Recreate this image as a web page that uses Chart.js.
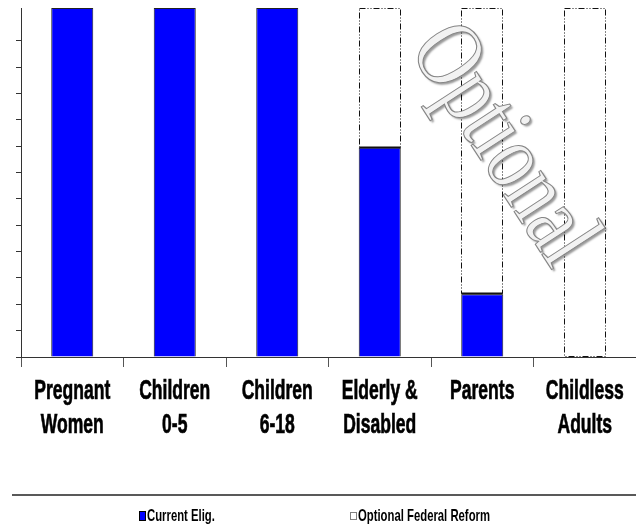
<!DOCTYPE html>
<html>
<head>
<meta charset="utf-8">
<script src="https://cdn.jsdelivr.net/npm/chart.js@4.4.0/dist/chart.umd.min.js"></script>
<style>
  html, body { margin: 0; padding: 0; background: #fff; }
</style>
</head>
<body>
<canvas id="eligChart" width="636" height="527"></canvas>
<script>
// eligibility groups and the two stacked series (share of the full bar height)
const categories = [['Pregnant', 'Women'], ['Children', '0-5'], ['Children', '6-18'], ['Elderly &', 'Disabled'], ['Parents'], ['Childless', 'Adults']];
const currentElig = [100, 100, 100, 60, 18, 0];
const optionalReform = [0, 0, 0, 40, 82, 100];
const seriesNames = ['Current Elig.', 'Optional Federal Reform'];
const watermarkText = 'Optional';

const narrowFont = '"Liberation Sans Narrow", "Liberation Sans", Arial, sans-serif';

// dash-dot outline for the optional part of each bar
const dashedBoxes = {
    id: 'dashedBoxes',
    afterDatasetsDraw(chart) {
        const ctx = chart.ctx;
        const meta = chart.getDatasetMeta(1);
        ctx.save();
        ctx.strokeStyle = '#111';
        ctx.lineWidth = 1;
        meta.data.forEach((bar, i) => {
            if (!optionalReform[i]) return;
            const left = Math.round(bar.x - bar.width / 2) + 0.5;
            const right = Math.round(bar.x + bar.width / 2) - 0.5;
            const top = Math.round(bar.y) + 0.5;
            const bottom = Math.round(bar.base) - 0.5;
            ctx.setLineDash([6, 2, 1, 2, 1, 2]);
            ctx.strokeRect(left, top, right - left, bottom - top);
            // solid seam where the optional part sits on the current bar
            if (currentElig[i]) {
                ctx.setLineDash([]);
                ctx.lineWidth = 2;
                ctx.beginPath();
                ctx.moveTo(left, bottom);
                ctx.lineTo(right, bottom);
                ctx.stroke();
                ctx.lineWidth = 1;
            }
        });
        ctx.restore();
    }
};

// stretched bold labels under the axis, placed with the x scale
const categoryLabels = {
    id: 'categoryLabels',
    afterDraw(chart) {
        const ctx = chart.ctx;
        const xScale = chart.scales.x;
        const base = chart.chartArea.bottom;
        ctx.save();
        ctx.font = 'bold 28px ' + narrowFont;
        const sx = 76 / ctx.measureText('Pregnant').width;
        ctx.fillStyle = '#000';
        ctx.strokeStyle = '#000';
        ctx.lineWidth = 0.7;
        ctx.textAlign = 'center';
        ctx.textBaseline = 'alphabetic';
        categories.forEach((lines, i) => {
            const x = xScale.getPixelForValue(i);
            lines.forEach((line, j) => {
                ctx.save();
                ctx.translate(x, base + 42 + j * 34);
                ctx.scale(sx, 1);
                ctx.fillText(line, 0, 0);
                ctx.strokeText(line, 0, 0);
                ctx.restore();
            });
        });
        ctx.restore();
    }
};

// watermark across the right-hand bars
const watermark = {
    id: 'watermark',
    afterDraw(chart) {
        const ctx = chart.ctx;
        const area = chart.chartArea;
        ctx.save();
        ctx.translate(area.left + 0.782 * (area.right - area.left), area.top + 0.395 * (area.bottom - area.top));
        ctx.rotate(57 * Math.PI / 180);
        ctx.scale(0.97, 1.25);
        ctx.font = '78px "Liberation Serif", "Times New Roman", serif';
        ctx.textAlign = 'center';
        ctx.textBaseline = 'middle';
        ctx.shadowColor = 'rgba(0,0,0,0.4)';
        ctx.shadowOffsetX = 2;
        ctx.shadowOffsetY = 2;
        ctx.shadowBlur = 2;
        ctx.fillStyle = '#f2f2f2';
        ctx.fillText(watermarkText, 0, 0);
        ctx.shadowColor = 'transparent';
        ctx.strokeStyle = '#858585';
        ctx.lineWidth = 0.9;
        ctx.strokeText(watermarkText, 0, 0);
        ctx.restore();
    }
};

// legend with a rule above it
const bottomLegend = {
    id: 'bottomLegend',
    afterDraw(chart) {
        const ctx = chart.ctx;
        const y = 516;
        ctx.save();
        ctx.strokeStyle = '#222';
        ctx.lineWidth = 1.5;
        ctx.beginPath();
        ctx.moveTo(12, 495);
        ctx.lineTo(chart.width, 495);
        ctx.stroke();

        ctx.font = 'bold 17px ' + narrowFont;
        const sx = 132 / ctx.measureText(seriesNames[1]).width;
        ctx.textBaseline = 'middle';
        ctx.textAlign = 'left';
        const starts = [139, 350];
        seriesNames.forEach((name, i) => {
            const bx = starts[i];
            if (i === 0) {
                ctx.fillStyle = '#0000ff';
                ctx.fillRect(bx, y - 5, 6, 9);
                ctx.strokeStyle = '#000';
                ctx.lineWidth = 1;
                ctx.strokeRect(bx + 0.5, y - 4.5, 6, 9);
            } else {
                ctx.strokeStyle = '#000';
                ctx.lineWidth = 1;
                ctx.setLineDash([1, 1]);
                ctx.strokeRect(bx + 0.5, y - 3.5, 6, 7);
                ctx.setLineDash([]);
            }
            ctx.fillStyle = '#000';
            ctx.save();
            ctx.translate(bx + 8, y);
            ctx.scale(sx, 1);
            ctx.fillText(name, 0, 0);
            ctx.restore();
        });
        ctx.restore();
    }
};

const ctx = document.getElementById('eligChart').getContext('2d');
const eligChart = new Chart(ctx, {
    type: 'bar',
    data: {
        labels: categories,
        datasets: [{
            label: seriesNames[0],
            data: currentElig,
            backgroundColor: '#0000ff',
            borderColor: '#222',
            borderWidth: 1,
            barPercentage: 0.41,
            categoryPercentage: 1
        }, {
            label: seriesNames[1],
            data: optionalReform,
            backgroundColor: '#ffffff',
            borderWidth: 0,
            barPercentage: 0.41,
            categoryPercentage: 1
        }]
    },
    options: {
        responsive: false,
        animation: false,
        layout: {
            padding: { left: 16, right: 0, top: 8, bottom: 160 }
        },
        plugins: {
            legend: { display: false },
            tooltip: { enabled: false }
        },
        scales: {
            x: {
                stacked: true,
                ticks: { display: false },
                grid: { drawOnChartArea: false, tickLength: 10, color: '#555', offset: true },
                border: { color: '#333', width: 1 }
            },
            y: {
                stacked: true,
                min: 0,
                max: 100,
                ticks: { display: false, stepSize: 7.55 },
                afterBuildTicks: scale => {
                    scale.ticks = scale.ticks.filter(t => t.value < 99.5);
                },
                grid: { drawOnChartArea: false, tickLength: 5, color: '#333' },
                border: { color: '#333', width: 1 }
            }
        }
    },
    plugins: [dashedBoxes, categoryLabels, watermark, bottomLegend]
});
</script>
</body>
</html>
